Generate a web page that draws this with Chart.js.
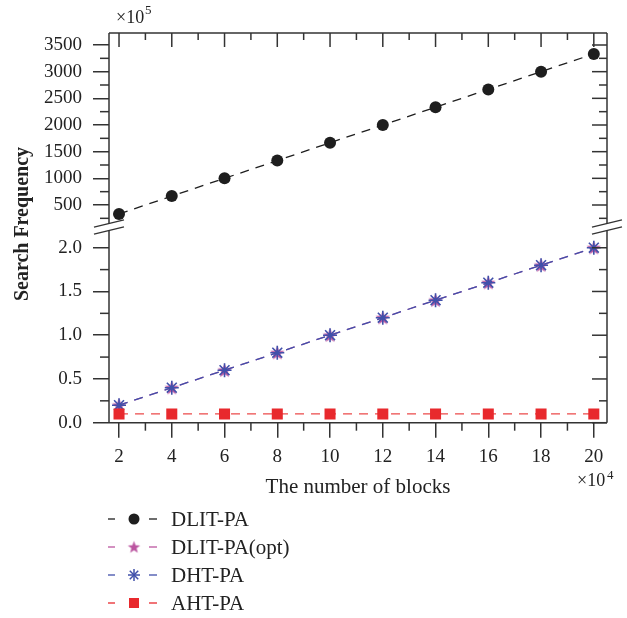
<!DOCTYPE html>
<html><head><meta charset="utf-8">
<script src="https://cdn.jsdelivr.net/npm/chart.js@4/dist/chart.umd.min.js"></script>
<style>html,body{margin:0;padding:0;background:#fff;}canvas{display:block;}</style>
</head><body>
<canvas id="c" width="627" height="618"></canvas>
<script>
// ---- data ----
const blocks = [2, 4, 6, 8, 10, 12, 14, 16, 18, 20];            // ×10^4
const dlitPA = [333, 667, 1000, 1333, 1667, 2000, 2333, 2667, 3000, 3333]; // ×10^5
const dlitPAopt = [0.2, 0.4, 0.6, 0.8, 1.0, 1.2, 1.4, 1.6, 1.8, 2.0];
const dhtPA = [0.2, 0.4, 0.6, 0.8, 1.0, 1.2, 1.4, 1.6, 1.8, 2.0];
const ahtPA = [0.1, 0.1, 0.1, 0.1, 0.1, 0.1, 0.1, 0.1, 0.1, 0.1];
const seriesNames = ['DLIT-PA', 'DLIT-PA(opt)', 'DHT-PA', 'AHT-PA'];
const xTicks = [2, 4, 6, 8, 10, 12, 14, 16, 18, 20];
const xMinor = [3, 5, 7, 9, 11, 13, 15, 17, 19];
const upperTicks = [500, 1000, 1500, 2000, 2500, 3000, 3500];
const upperMinor = [250, 750, 1250, 1750, 2250, 2750, 3250];
const lowerTicks = [0, 0.5, 1.0, 1.5, 2.0];
const lowerMinor = [0.25, 0.75, 1.25, 1.75];

const FONT = "'Liberation Serif', 'Times New Roman', serif";
const AX = '#333333';
const COL = { dlit: '#1e1e1e', opt: '#bb55a0', dht: '#4150aa', aht: '#e8292d' };

function makeStar(r, color) {
  const c = document.createElement('canvas');
  const s = Math.ceil(r * 2 + 2);
  c.width = s; c.height = s;
  const g = c.getContext('2d');
  g.fillStyle = color;
  g.beginPath();
  for (let i = 0; i < 10; i++) {
    const rr = i % 2 === 0 ? r : r * 0.42;
    const a = -Math.PI / 2 + i * Math.PI / 5;
    const px = s / 2 + rr * Math.cos(a), py = s / 2 + rr * Math.sin(a) + r * 0.08;
    i === 0 ? g.moveTo(px, py) : g.lineTo(px, py);
  }
  g.closePath(); g.fill();
  return c;
}
const starPlot = makeStar(7.5, COL.opt);
const starLegend = makeStar(6.5, COL.opt);

function line(ctx, x1, y1, x2, y2) { ctx.beginPath(); ctx.moveTo(x1, y1); ctx.lineTo(x2, y2); ctx.stroke(); }

const framePlugin = {
  id: 'frame',
  afterDraw(chart) {
    const ctx = chart.ctx, ca = chart.chartArea;
    const xs = chart.scales.x, yH = chart.scales.yHigh, yL = chart.scales.yLow;
    const brk = yH.bottom;
    ctx.save();
    ctx.strokeStyle = AX; ctx.lineWidth = 1.5;
    // frame
    line(ctx, ca.left, ca.top, ca.right, ca.top);
    line(ctx, ca.left, ca.bottom, ca.right, ca.bottom);
    [ca.left, ca.right].forEach(x => {
      line(ctx, x, ca.top, x, brk - 3.5);
      line(ctx, x, brk + 3.5, x, ca.bottom);
    });
    // x ticks: top inward, bottom minor outward
    xTicks.forEach(v => { const p = xs.getPixelForValue(v); line(ctx, p, ca.top, p, ca.top + 14); });
    xMinor.forEach(v => { const p = xs.getPixelForValue(v);
      line(ctx, p, ca.top, p, ca.top + 7); line(ctx, p, ca.bottom, p, ca.bottom + 8); });
    // y ticks
    const doY = (scale, majors, minors) => {
      majors.forEach(v => { const p = scale.getPixelForValue(v); line(ctx, ca.right - 15, p, ca.right, p); });
      minors.forEach(v => { const p = scale.getPixelForValue(v);
        line(ctx, ca.left - 9, p, ca.left, p); line(ctx, ca.right - 8, p, ca.right, p); });
    };
    doY(yH, upperTicks, upperMinor);
    doY(yL, lowerTicks, lowerMinor);
    // break marks
    ctx.lineWidth = 1.4;
    [ca.left, ca.right].forEach(x => {
      [-3.5, 3.5].forEach(o => line(ctx, x - 15, brk + o + 3.6, x + 15, brk + o - 3.6));
    });
    // y title
    ctx.fillStyle = '#222';
    ctx.save();
    ctx.translate(28, 224); ctx.rotate(-Math.PI / 2);
    ctx.font = 'bold 20px ' + FONT; ctx.textAlign = 'center'; ctx.textBaseline = 'alphabetic';
    ctx.fillText('Search Frequency', 0, 0);
    ctx.restore();
    // multipliers
    ctx.textAlign = 'left'; ctx.textBaseline = 'alphabetic';
    ctx.font = '18px ' + FONT;
    ctx.fillText('\u00d710', 116, 23);
    ctx.fillText('\u00d710', 577, 486);
    ctx.font = '13px ' + FONT;
    ctx.fillText('5', 145, 13.5);
    ctx.fillText('4', 607, 479);
    // legend
    const ys = [519, 547, 575, 603];
    const colors = [COL.dlit, COL.opt, COL.dht, COL.aht];
    seriesNames.forEach((name, i) => {
      const y = ys[i];
      ctx.strokeStyle = colors[i]; ctx.lineWidth = 1.3;
      line(ctx, 108, y, 115, y); line(ctx, 149, y, 157, y);
      const cx = 134;
      if (i === 0) { ctx.fillStyle = colors[i]; ctx.beginPath(); ctx.arc(cx, y, 5.5, 0, Math.PI * 2); ctx.fill(); }
      else if (i === 1) { ctx.drawImage(starLegend, cx - starLegend.width / 2, y - starLegend.height / 2); }
      else if (i === 2) { ctx.lineWidth = 1.5;
        for (let k = 0; k < 4; k++) { const a = k * Math.PI / 4, r = 6;
          line(ctx, cx - r * Math.cos(a), y - r * Math.sin(a), cx + r * Math.cos(a), y + r * Math.sin(a)); } }
      else { ctx.fillStyle = colors[i]; ctx.fillRect(cx - 5, y - 5, 10, 10); }
      ctx.fillStyle = '#222'; ctx.font = '21px ' + FONT; ctx.textBaseline = 'middle';
      ctx.fillText(name, 171, y + 1);
    });
    ctx.restore();
  }
};

const mk = arr => blocks.map((b, i) => ({ x: b, y: arr[i] }));
const common = { borderWidth: 1.3, borderDash: [9, 7], tension: 0, fill: false };
const yTickFont = { family: FONT, size: 19 };

new Chart(document.getElementById('c'), {
  type: 'line',
  data: {
    datasets: [
      { ...common, label: seriesNames[0], data: mk(dlitPA), yAxisID: 'yHigh', order: 3,
        borderColor: COL.dlit, pointStyle: 'circle', pointRadius: 6, pointBackgroundColor: COL.dlit, pointBorderColor: COL.dlit, pointBorderWidth: 0 },
      { ...common, label: seriesNames[1], data: mk(dlitPAopt), yAxisID: 'yLow', order: 2,
        borderColor: COL.opt, pointStyle: starPlot, pointRadius: 7 },
      { ...common, label: seriesNames[2], data: mk(dhtPA), yAxisID: 'yLow', order: 1,
        borderColor: COL.dht, pointStyle: 'star', pointRadius: 7, pointBorderColor: COL.dht, pointBorderWidth: 1.6, pointBackgroundColor: COL.dht },
      { ...common, label: seriesNames[3], data: mk(ahtPA), yAxisID: 'yLow', order: 0,
        borderColor: '#ec4a4a', pointStyle: 'rect', pointRadius: 7.8, pointBackgroundColor: COL.aht, pointBorderColor: COL.aht, pointBorderWidth: 0 }
    ]
  },
  options: {
    responsive: false, animation: false, devicePixelRatio: 1,
    layout: { padding: { top: 33, right: 20, bottom: 118.3, left: 0 } },
    plugins: { legend: { display: false }, tooltip: { enabled: false } },
    scales: {
      x: {
        type: 'linear', min: 1.62, max: 20.5,
        afterBuildTicks: s => { s.ticks = xTicks.map(v => ({ value: v })); },
        afterFit: s => { s.height = 77; },
        grid: { display: true, drawOnChartArea: false, drawTicks: true, tickLength: 15, color: AX, lineWidth: 1.5 },
        border: { display: false },
        ticks: { font: { family: FONT, size: 19 }, color: '#222', padding: 8, maxRotation: 0, autoSkip: false, callback: v => String(v) },
        title: { display: true, text: 'The number of blocks', font: { family: FONT, size: 21 }, color: '#222', padding: 0 }
      },
      yLow: {
        type: 'linear', position: 'left', stack: 'ybrk', stackWeight: 195.7, min: 0, max: 2.237,
        afterBuildTicks: s => { s.ticks = lowerTicks.map(v => ({ value: v })); },
        afterFit: s => { s.width = 109; },
        grid: { display: true, drawOnChartArea: false, drawTicks: true, tickLength: 16, color: AX, lineWidth: 1.5 },
        border: { display: false },
        ticks: { font: yTickFont, color: '#222', padding: 11, autoSkip: false, callback: v => Number(v).toFixed(1) }
      },
      yHigh: {
        type: 'linear', position: 'left', stack: 'ybrk', stackWeight: 194, min: 87.5, max: 3725,
        afterBuildTicks: s => { s.ticks = upperTicks.map(v => ({ value: v })); },
        afterFit: s => { s.width = 109; },
        grid: { display: true, drawOnChartArea: false, drawTicks: true, tickLength: 16, color: AX, lineWidth: 1.5 },
        border: { display: false },
        ticks: { font: yTickFont, color: '#222', padding: 11, autoSkip: false, callback: v => String(v) }
      }
    }
  },
  plugins: [framePlugin]
});
</script>
</body></html>
